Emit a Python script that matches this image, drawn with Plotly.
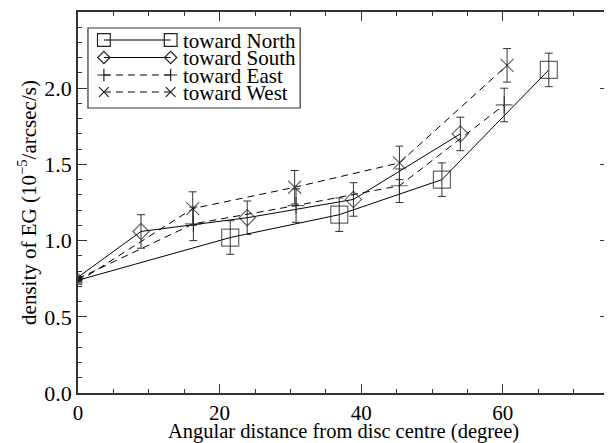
import plotly.graph_objects as go

# ---- data ----
angle_north = [0, 21.5, 36.9, 51.4, 66.5]
dens_north = [0.74, 1.02, 1.17, 1.40, 2.12]
err_north = [0.0, 0.11, 0.11, 0.11, 0.11]

angle_south = [0, 8.9, 23.9, 38.9, 54.0]
dens_south = [0.76, 1.06, 1.15, 1.27, 1.70]
err_south = [0.0, 0.11, 0.11, 0.11, 0.11]

angle_east = [0, 16.3, 30.8, 45.4, 60.2]
dens_east = [0.75, 1.11, 1.23, 1.36, 1.89]
err_east = [0.0, 0.11, 0.11, 0.11, 0.11]

angle_west = [0, 16.2, 30.6, 45.4, 60.6]
dens_west = [0.73, 1.21, 1.35, 1.51, 2.15]
err_west = [0.0, 0.11, 0.11, 0.11, 0.11]

series_names = ["toward North", "toward South", "toward East", "toward West"]
x_ticks = [0, 20, 40, 60]
y_ticks = [0.0, 0.5, 1.0, 1.5, 2.0, 2.5]

# ---- styles ----
FONT = "Liberation Serif"
INK = "#222"
styles = [
    dict(symbol="square-open", size=17, dash="solid"),
    dict(symbol="diamond-open", size=12.5, dash="solid"),
    dict(symbol="cross-thin-open", size=12, dash="7px,5px"),
    dict(symbol="x-thin-open", size=13, dash="7px,5px"),
]
all_x = [angle_north, angle_south, angle_east, angle_west]
all_y = [dens_north, dens_south, dens_east, dens_west]
all_e = [err_north, err_south, err_east, err_west]

fig = go.Figure()
for xs, ys, es, st, name in zip(all_x, all_y, all_e, styles, series_names):
    sizes = [st["size"] * 0.45] + [st["size"]] * (len(xs) - 1)
    fig.add_trace(go.Scatter(
        x=xs, y=ys, mode="lines+markers", name=name, showlegend=False,
        line=dict(color="black", width=1, dash=st["dash"]),
        marker=dict(symbol=st["symbol"], size=sizes, color=INK,
                    line=dict(width=1.2, color=INK)),
        error_y=dict(type="data", array=es, visible=True, color="#333",
                     thickness=1, width=4),
    ))

# ---- custom IDL-style legend (pixel coords inside plot area) ----
row_y = [28, 45.5, 63, 80]
x_line = [26, 93]
for ry, st, name in zip(row_y, styles, series_names):
    fig.add_trace(go.Scatter(
        x=x_line, y=[ry, ry], xaxis="x2", yaxis="y2", mode="lines+markers",
        showlegend=False, hoverinfo="skip",
        line=dict(color="black", width=1, dash=st["dash"]),
        marker=dict(symbol=st["symbol"], size=st["size"] * 0.75, color=INK,
                    line=dict(width=1.2, color=INK)),
    ))
    fig.add_annotation(x=104, y=ry, xref="x2", yref="y2", text=name,
                       showarrow=False, xanchor="left", yanchor="middle",
                       height=17, borderpad=0,
                       font=dict(family=FONT, size=21, color="black"))
fig.add_shape(type="rect", xref="x2", yref="y2", x0=10, x1=223, y0=16, y1=96,
              line=dict(color="#333", width=1.2))

# page body has an 8px margin; figure is sized so the plot lands where the reference has it
fig.update_layout(
    width=604, height=435,
    margin=dict(l=70, r=1, t=4, b=50),
    paper_bgcolor="white", plot_bgcolor="white",
    font=dict(family=FONT, size=21, color="black"),
    xaxis=dict(
        range=[0, 75], tickvals=x_ticks, ticks="inside", ticklen=9,
        tickcolor="#333", showline=True, linecolor="#333", linewidth=1.5,
        mirror="ticks", showgrid=False, zeroline=False,
        minor=dict(dtick=5, tick0=0, ticks="inside", ticklen=4, tickcolor="#333"),
        title=dict(text="Angular distance from disc centre (degree)",
                   font=dict(size=20.5), standoff=3),
        tickfont=dict(size=21),
    ),
    yaxis=dict(
        range=[0, 2.5], tickvals=y_ticks, tickformat=".1f", ticks="inside",
        ticklen=9, tickcolor="#333", showline=True, linecolor="#333",
        linewidth=1.5, mirror="ticks", showgrid=False, zeroline=False,
        minor=dict(dtick=0.1, tick0=0, ticks="inside", ticklen=4, tickcolor="#333"),
        title=dict(text="density of EG (10<sup>−5</sup>/arcsec/s)",
                   font=dict(size=21), standoff=2),
        tickfont=dict(size=22),
    ),
    xaxis2=dict(range=[0, 533], overlaying="x", visible=False, fixedrange=True),
    yaxis2=dict(range=[381, 0], overlaying="y", visible=False, fixedrange=True),
)

fig.write_html("out.html")
